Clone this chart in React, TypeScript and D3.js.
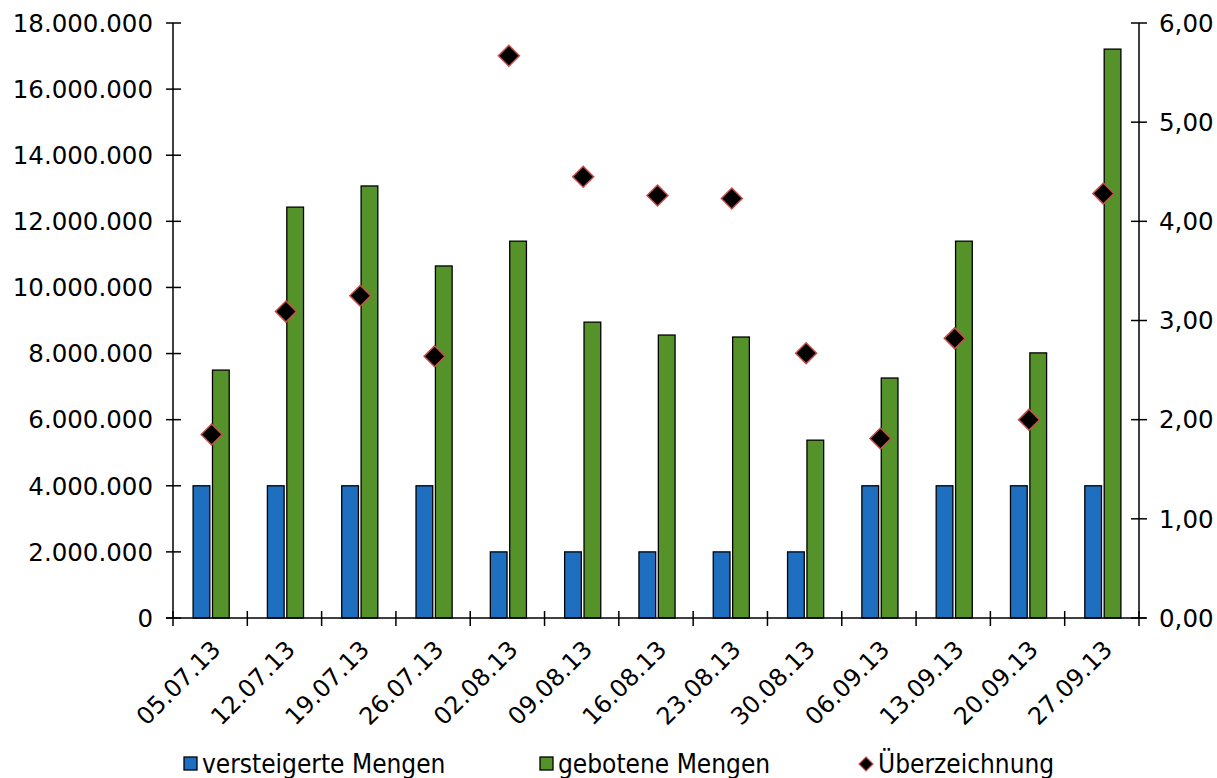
import React from "react";
import * as d3 from "d3";

const categories = ["05.07.13","12.07.13","19.07.13","26.07.13","02.08.13","09.08.13","16.08.13","23.08.13","30.08.13","06.09.13","13.09.13","20.09.13","27.09.13"];
const versteigert = [4000000,4000000,4000000,4000000,2000000,2000000,2000000,2000000,2000000,4000000,4000000,4000000,4000000];
const geboten = [7500000,12430000,13070000,10650000,11400000,8950000,8560000,8500000,5380000,7260000,11400000,8020000,17210000];
const ueberzeichnung = [1.85,3.09,3.25,2.64,5.67,4.45,4.26,4.23,2.67,1.81,2.82,2.00,4.28];
const leftTicks = [0,2000000,4000000,6000000,8000000,10000000,12000000,14000000,16000000,18000000];
const rightTicks = [0,1,2,3,4,5,6];
const seriesNames = ["versteigerte Mengen","gebotene Mengen","Überzeichnung"];

const W = 1217, H = 778;
const X0 = 173, X1 = 1139, Y0 = 618, Y1 = 23;
const BLUE = "#1f6fc0", GREEN = "#55922a", DIAMOND_STROKE = "#c8504d";
const FONT = "DejaVu Sans";

export default function App() {
  const x = d3.scaleBand<string>().domain(categories).range([X0, X1]).paddingInner(0).paddingOuter(0);
  const yL = d3.scaleLinear().domain([0, 18000000]).range([Y0, Y1]);
  const yR = d3.scaleLinear().domain([0, 6]).range([Y0, Y1]);
  const bw = x.bandwidth();
  const barW = bw * 0.225;
  const gap = bw * 0.036;
  const fmtL = (v: number) => d3.format(",")(v).replace(/,/g, ".");
  const fmtR = (v: number) => d3.format(".2f")(v).replace(".", ",");
  const diamond = (cx: number, cy: number, r: number) => `M${cx},${cy - r}L${cx + r},${cy}L${cx},${cy + r}L${cx - r},${cy}Z`;
  const boundaries = d3.range(categories.length + 1).map(i => X0 + bw * i);

  return (
    <svg width={W} height={H} style={{ position: "absolute", left: 0, top: 0 }}>
      <rect width={W} height={H} fill="#fff" />
      {categories.map((c, i) => {
        const cx = (x(c) as number) + bw / 2 + 1;
        return (
          <g key={c}>
            <rect x={cx - gap / 2 - barW} y={yL(versteigert[i])} width={barW} height={Y0 - yL(versteigert[i])} fill={BLUE} stroke="#000" strokeWidth={1.3} />
            <rect x={cx + gap / 2} y={yL(geboten[i])} width={barW} height={Y0 - yL(geboten[i])} fill={GREEN} stroke="#000" strokeWidth={1.3} />
          </g>
        );
      })}
      {/* axes */}
      <line x1={X0} x2={X0} y1={Y1} y2={Y0} stroke="#000" strokeWidth={1.5} />
      <line x1={X1} x2={X1} y1={Y1} y2={Y0} stroke="#000" strokeWidth={1.5} />
      <line x1={X0 - 7} x2={X1 + 7} y1={Y0} y2={Y0} stroke="#000" strokeWidth={1.5} />
      {leftTicks.map(t => (
        <g key={t}>
          <line x1={X0 - 7} x2={X0 + 8} y1={yL(t)} y2={yL(t)} stroke="#000" strokeWidth={1.5} />
          <text x={153} y={yL(t)} dy="0.36em" textAnchor="end" fontFamily={FONT} fontSize={24.5} fill="#000">{fmtL(t)}</text>
        </g>
      ))}
      {rightTicks.map(t => (
        <g key={t}>
          <line x1={X1 - 8} x2={X1 + 8} y1={yR(t)} y2={yR(t)} stroke="#000" strokeWidth={1.5} />
          <text x={1159} y={yR(t)} dy="0.36em" textAnchor="start" fontFamily={FONT} fontSize={24.5} fill="#000">{fmtR(t)}</text>
        </g>
      ))}
      {boundaries.map((b, i) => (
        <line key={i} x1={b} x2={b} y1={Y0 - 7} y2={Y0 + 8} stroke="#000" strokeWidth={1.5} />
      ))}
      {categories.map(c => {
        const cx = (x(c) as number) + bw / 2;
        const px = cx + 12, py = 651;
        return (
          <text key={c} x={px} y={py} transform={`rotate(-45 ${px} ${py})`} textAnchor="end" fontFamily={FONT} fontSize={24} fill="#000">{c}</text>
        );
      })}
      {categories.map((c, i) => {
        const cx = (x(c) as number) + bw / 2 + 1.5;
        return <path key={c} d={diamond(cx, yR(ueberzeichnung[i]), 10.5)} fill="#000" stroke={DIAMOND_STROKE} strokeWidth={1.5} />;
      })}
      {/* legend */}
      <g fontFamily="DejaVu Sans Condensed" fontSize={26} fill="#000">
        <rect x={184} y={757} width={13} height={13} fill={BLUE} stroke="#000" strokeWidth={1.3} />
        <text x={202} y={773}>{seriesNames[0]}</text>
        <rect x={540} y={757} width={13} height={13} fill={GREEN} stroke="#000" strokeWidth={1.3} />
        <text x={558} y={773}>{seriesNames[1]}</text>
        <path d={diamond(866, 764, 7)} fill="#000" stroke={DIAMOND_STROKE} strokeWidth={1.2} />
        <text x={878} y={773}>{seriesNames[2]}</text>
      </g>
    </svg>
  );
}
